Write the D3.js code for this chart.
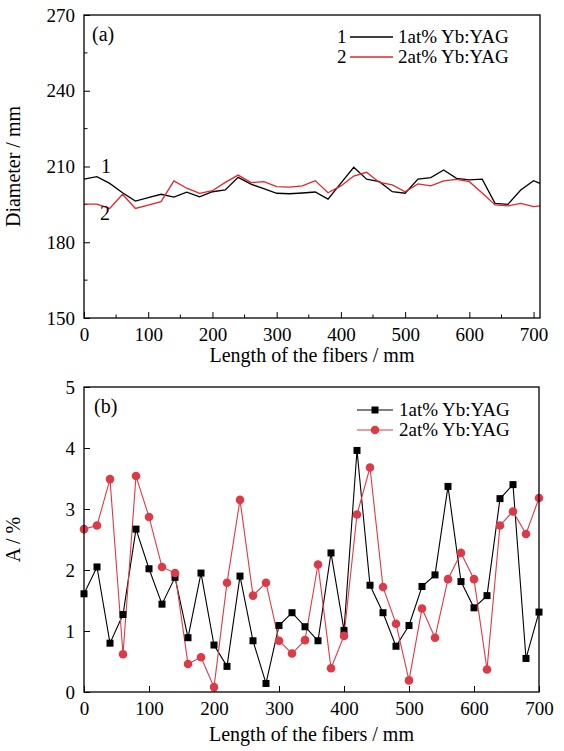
<!DOCTYPE html>
<html>
<head>
<meta charset="utf-8">
<script src="https://d3js.org/d3.v7.min.js"></script>
<style>
  body { margin: 0; background: #fff; }
  svg text { font-family: "Liberation Serif", Tinos, "Times New Roman", Times, "DejaVu Serif", serif; }
</style>
</head>
<body>
<script>
// ---- panel (a): fiber diameter ----
const lenA = [0,20,40,60,80,100,120,140,160,180,200,220,240,260,280,300,320,340,360,
              380,400,420,440,460,480,500,520,540,560,580,600,620,640,660,680,700,710];
const dia1 = [205.0,206.0,203.3,199.6,196.3,197.7,199.0,197.9,199.8,198.0,200.0,200.7,205.7,
              203.0,201.2,199.4,199.2,199.5,199.9,197.1,203.4,209.7,205.0,204.0,200.0,199.4,
              205.0,205.6,208.6,205.3,204.7,205.0,195.4,195.0,200.7,204.4,203.3];
const dia2 = [195.1,195.1,193.4,199.0,193.4,194.7,196.1,204.3,201.4,199.4,200.4,203.7,206.6,
              203.6,204.0,202.0,201.8,202.3,204.4,199.6,202.3,206.2,207.7,203.7,202.7,200.0,
              203.1,202.3,204.3,204.9,204.0,199.5,194.8,194.4,195.4,194.1,194.4];
const diaTicks = [150,180,210,240,270];

// ---- panel (b): A / % ----
const lenB = [0,20,40,60,80,100,120,140,160,180,200,220,240,260,280,300,320,340,360,
              380,400,420,440,460,480,500,520,540,560,580,600,620,640,660,680,700];
const a1 = [1.61,2.05,0.80,1.27,2.67,2.02,1.44,1.88,0.89,1.95,0.77,0.42,1.90,0.84,0.14,1.09,
            1.30,1.07,0.84,2.28,1.01,3.96,1.75,1.30,0.75,1.09,1.73,1.92,3.37,1.81,1.38,1.58,
            3.17,3.40,0.55,1.31];
const a2 = [2.67,2.73,3.49,0.62,3.54,2.87,2.05,1.95,0.46,0.57,0.08,1.79,3.15,1.58,1.79,0.84,
            0.63,0.85,2.09,0.39,0.92,2.91,3.68,1.72,1.12,0.19,1.37,0.89,1.85,2.28,1.85,0.37,
            2.73,2.96,2.59,3.18];
const aTicks = [0,1,2,3,4,5];
const lenTicks = [0,100,200,300,400,500,600,700];
const names = ["1at% Yb:YAG", "2at% Yb:YAG"];

const RED_A = "#e3242b", RED_B = "#dd3a48";
const FONT = "'Liberation Serif', Tinos, 'Times New Roman', Times, 'DejaVu Serif', serif";

const svg = d3.select("body").append("svg")
    .attr("width", 564)
    .attr("height", 751)
;

function frame(g, w, h) {
    g.append("rect")
        .attr("width", w).attr("height", h)
        .attr("fill", "none").attr("stroke", "#000").attr("stroke-width", 1.3)
    ;
}

// ================= panel (a) =================
const L = 84, W = 456;
const topA = 15, HA = 303;
const xA = d3.scaleLinear().domain([0, 710]).range([0, W]);
const yA = d3.scaleLinear().domain([150, 270]).range([HA, 0]);
const ga = svg.append("g").attr("transform", `translate(${L},${topA})`);

ga.append("g").attr("transform", `translate(0,${HA})`)
    .call(d3.axisBottom(xA).tickValues(lenTicks).tickSize(-6).tickPadding(10).tickFormat(d3.format("d")))
    .call(g => g.append("g").selectAll("line")
        .data(d3.range(50, 710, 100)).join("line")
        .attr("x1", d => xA(d)).attr("x2", d => xA(d))
        .attr("y1", 0).attr("y2", -3.5).attr("stroke", "#000"))
;
ga.append("g")
    .call(d3.axisLeft(yA).tickValues(diaTicks).tickSize(-6).tickPadding(9).tickFormat(d3.format("d")))
    .call(g => g.append("g").selectAll("line")
        .data(d3.range(165, 270, 30)).join("line")
        .attr("x1", 0).attr("x2", 3.5)
        .attr("y1", d => yA(d)).attr("y2", d => yA(d)).attr("stroke", "#000"))
;

const lineA = d3.line().x((d, i) => xA(lenA[i])).y(d => yA(d));
ga.append("path").datum(dia1).attr("d", lineA)
    .attr("fill", "none").attr("stroke", "#000").attr("stroke-width", 1.3);
ga.append("path").datum(dia2).attr("d", lineA)
    .attr("fill", "none").attr("stroke", RED_A).attr("stroke-width", 1.3);

ga.append("text").attr("class", "lbl").attr("x", 17).attr("y", 158).text("1");
ga.append("text").attr("class", "lbl").attr("x", 16).attr("y", 205).text("2");
ga.append("text").attr("class", "lbl").attr("x", 8).attr("y", 26).text("(a)");

// legend (a)
const legA = ga.append("g").attr("transform", "translate(253,22)");
[0, 1].forEach(i => {
    const row = legA.append("g").attr("transform", `translate(0,${i * 20})`);
    row.append("text").attr("class", "leg").attr("x", 0).attr("y", 6).text(String(i + 1));
    row.append("line").attr("x1", 13).attr("x2", 56).attr("y1", 0).attr("y2", 0)
        .attr("stroke", i ? RED_A : "#000").attr("stroke-width", 1.3);
    row.append("text").attr("class", "leg").attr("x", 61).attr("y", 6).text(names[i]);
});

ga.append("text").attr("class", "lbl").attr("x", W / 2).attr("y", HA + 44)
    .attr("text-anchor", "middle").text("Length of the fibers / mm");
ga.append("text").attr("class", "lbl").attr("transform", `translate(${-64},${HA / 2}) rotate(-90)`)
    .attr("text-anchor", "middle").text("Diameter / mm");

// ================= panel (b) =================
const topB = 387, HB = 305, WB = 455;
const xB = d3.scaleLinear().domain([0, 700]).range([0, WB]);
const yB = d3.scaleLinear().domain([0, 5]).range([HB, 0]);
const gb = svg.append("g").attr("transform", `translate(${L},${topB})`);

gb.append("g").attr("transform", `translate(0,${HB})`)
    .call(d3.axisBottom(xB).tickValues(lenTicks).tickSize(-6).tickPadding(10).tickFormat(d3.format("d")));
gb.append("g")
    .call(d3.axisLeft(yB).tickValues(aTicks).tickSize(-6).tickPadding(9).tickFormat(d3.format("d")));

const lineB = d3.line().x((d, i) => xB(lenB[i])).y(d => yB(d));
gb.append("path").datum(a1).attr("d", lineB)
    .attr("fill", "none").attr("stroke", "#000").attr("stroke-width", 1.1);
gb.append("path").datum(a2).attr("d", lineB)
    .attr("fill", "none").attr("stroke", RED_B).attr("stroke-width", 1.1);

gb.append("g").selectAll("rect").data(a1).join("rect")
    .attr("x", (d, i) => xB(lenB[i]) - 3.5).attr("y", d => yB(d) - 3.5)
    .attr("width", 7).attr("height", 7).attr("fill", "#000");
gb.append("g").selectAll("circle").data(a2).join("circle")
    .attr("cx", (d, i) => xB(lenB[i])).attr("cy", d => yB(d))
    .attr("r", 4.3).attr("fill", RED_B);

gb.append("text").attr("class", "lbl").attr("x", 10).attr("y", 26).text("(b)");

// legend (b)
const legB = gb.append("g").attr("transform", "translate(273,23)");
[0, 1].forEach(i => {
    const row = legB.append("g").attr("transform", `translate(0,${i * 20})`);
    const c = i ? RED_B : "#000";
    row.append("line").attr("x1", 0).attr("x2", 36).attr("y1", 0).attr("y2", 0)
        .attr("stroke", c).attr("stroke-width", 1.1);
    if (i) row.append("circle").attr("cx", 18).attr("cy", 0).attr("r", 4.3).attr("fill", c);
    else row.append("rect").attr("x", 14.5).attr("y", -3.5).attr("width", 7).attr("height", 7).attr("fill", c);
    row.append("text").attr("class", "leg").attr("x", 42).attr("y", 6).text(names[i]);
});

gb.append("text").attr("class", "lbl").attr("x", WB / 2).attr("y", HB + 49)
    .attr("text-anchor", "middle").text("Length of the fibers / mm");
gb.append("text").attr("class", "lbl").attr("transform", `translate(${-64},${HB / 2}) rotate(-90)`)
    .attr("text-anchor", "middle").text("A / %");

// common styling
svg.selectAll(".domain").remove();
frame(ga, W, HA);
frame(gb, WB, HB);
svg.selectAll("g").attr("font-family", FONT);
svg.selectAll(".tick line").attr("stroke", "#000");
svg.selectAll("text").style("font-family", FONT).attr("fill", "#000");
svg.selectAll(".lbl").attr("font-size", 20);
svg.selectAll(".leg").attr("font-size", 19);
svg.selectAll(".tick text").attr("font-size", 19);
</script>
</body>
</html>
